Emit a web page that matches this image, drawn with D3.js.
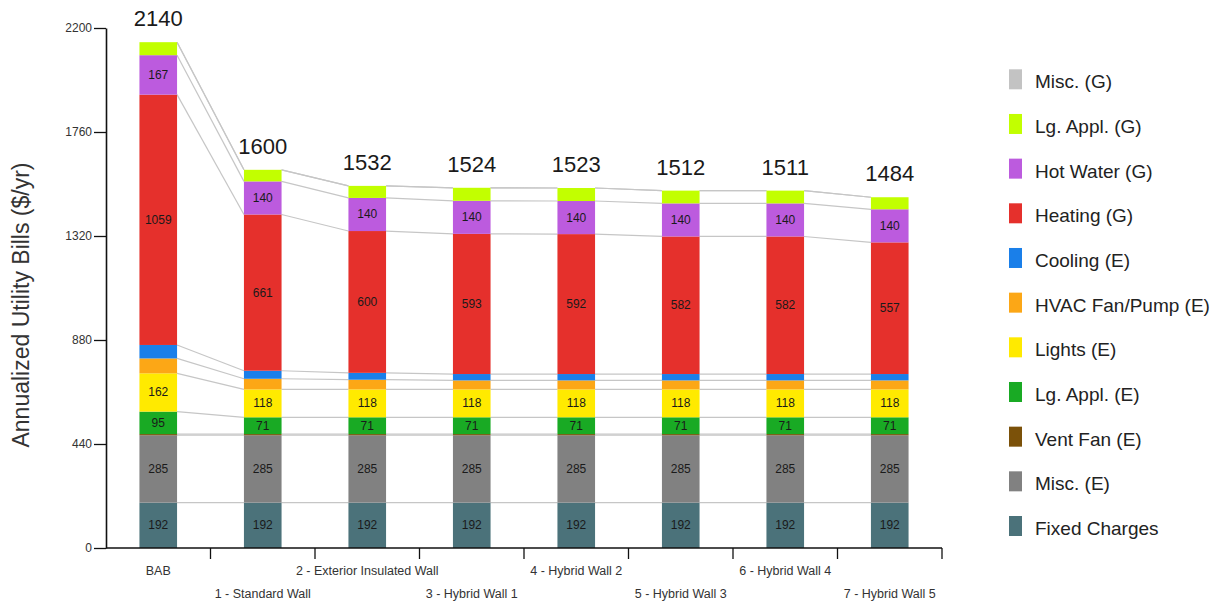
<!DOCTYPE html>
<html>
<head>
<meta charset="utf-8">
<script src="https://cdn.jsdelivr.net/npm/d3@7"></script>
<style>
  body { margin: 0; background: #fff; }
  svg { display: block; font-family: "Liberation Sans", Arial, sans-serif; }
</style>
</head>
<body>
<svg id="chart" width="1218" height="604"></svg>
<script>
// ---- data ----
const categories = ["BAB", "1 - Standard Wall", "2 - Exterior Insulated Wall", "3 - Hybrid Wall 1",
  "4 - Hybrid Wall 2", "5 - Hybrid Wall 3", "6 - Hybrid Wall 4", "7 - Hybrid Wall 5"];
const totals = [2140, 1600, 1532, 1524, 1523, 1512, 1511, 1484];

// series bottom -> top
const seriesNames = ["Fixed Charges", "Misc. (E)", "Vent Fan (E)", "Lg. Appl. (E)", "Lights (E)",
  "HVAC Fan/Pump (E)", "Cooling (E)", "Heating (G)", "Hot Water (G)", "Lg. Appl. (G)", "Misc. (G)"];
const seriesColors = ["#4b727a", "#818181", "#7b5109", "#19aa24", "#ffea00",
  "#fca716", "#1a7fe9", "#e5302c", "#bc5bde", "#c2ff00", "#c3c3c3"];

const fixedCharges = [192, 192, 192, 192, 192, 192, 192, 192];
const miscE        = [285, 285, 285, 285, 285, 285, 285, 285];
const ventFanE     = [5, 5, 5, 5, 5, 5, 5, 5];
const lgApplE      = [95, 71, 71, 71, 71, 71, 71, 71];
const lightsE      = [162, 118, 118, 118, 118, 118, 118, 118];
const hvacFanE     = [63, 45, 41, 38, 38, 38, 38, 38];
const coolingE     = [57, 34, 29, 27, 27, 27, 27, 27];
const heatingG     = [1059, 661, 600, 593, 592, 582, 582, 557];
const hotWaterG    = [167, 140, 140, 140, 140, 140, 140, 140];
const lgApplG      = [55, 49, 51, 55, 55, 54, 54, 51];
const miscG        = [0, 0, 0, 0, 0, 0, 0, 0];

const seriesValues = [fixedCharges, miscE, ventFanE, lgApplE, lightsE, hvacFanE, coolingE,
  heatingG, hotWaterG, lgApplG, miscG];

const yTicks = [0, 440, 880, 1320, 1760, 2200];
const labelMin = 65;

// ---- build ----
const svg = d3.select("#chart");
const x = d3.scaleBand().domain(categories).range([106, 942]).paddingInner(0.64).paddingOuter(0.32);
const y = d3.scaleLinear().domain([0, 2200]).range([548, 28]);

const rows = categories.map((c, i) => {
  const r = { cat: c };
  seriesNames.forEach((s, k) => r[s] = seriesValues[k][i]);
  return r;
});
const stacked = d3.stack().keys(seriesNames)(rows);

// connector lines (behind bars)
const conn = svg.append("g").attr("stroke", "#c6c6c6").attr("stroke-width", 1.2).attr("fill", "none");
stacked.forEach(layer => {
  for (let i = 0; i < categories.length - 1; i++) {
    conn.append("line")
      .attr("x1", x(categories[i]) + x.bandwidth())
      .attr("y1", y(layer[i][1]))
      .attr("x2", x(categories[i + 1]))
      .attr("y2", y(layer[i + 1][1]));
  }
});

// bars
const layers = svg.append("g").selectAll("g").data(stacked).join("g")
  .attr("fill", (d, k) => seriesColors[k]);
layers.selectAll("rect").data(d => d).join("rect")
  .attr("x", d => x(d.data.cat))
  .attr("width", x.bandwidth())
  .attr("y", d => y(d[1]))
  .attr("height", d => y(d[0]) - y(d[1]));

// segment labels
layers.selectAll("text").data(d => d.filter(p => p[1] - p[0] >= labelMin)).join("text")
  .attr("x", d => x(d.data.cat) + x.bandwidth() / 2)
  .attr("y", d => (y(d[0]) + y(d[1])) / 2 + 4)
  .attr("text-anchor", "middle")
  .attr("font-size", 12)
  .attr("fill", "#1a1a1a")
  .text(d => d[1] - d[0]);

// totals
svg.append("g").selectAll("text").data(categories).join("text")
  .attr("x", c => x(c) + x.bandwidth() / 2)
  .attr("y", (c, i) => y(totals[i]) - 16)
  .attr("text-anchor", "middle")
  .attr("font-size", 22)
  .attr("fill", "#1a1a1a")
  .text((c, i) => totals[i]);

// y axis
const yAxis = svg.append("g").attr("transform", "translate(106,0)")
  .call(d3.axisLeft(y).tickValues(yTicks).tickFormat(d3.format("d"))
    .tickSize(12).tickSizeOuter(0).tickPadding(2));
yAxis.select(".domain").attr("stroke", "#111").attr("stroke-width", 1.6);
yAxis.selectAll(".tick line").attr("stroke", "#111").attr("stroke-width", 1.3);
yAxis.selectAll(".tick text").attr("font-size", 12).attr("fill", "#333")
  .attr("font-family", "Liberation Sans, Arial, sans-serif");

// y title
svg.append("text")
  .attr("transform", "translate(29,305) rotate(-90)")
  .attr("text-anchor", "middle")
  .attr("font-size", 23)
  .attr("fill", "#333")
  .text("Annualized Utility Bills ($/yr)");

// x axis
const step = x.step();
const xg = svg.append("g");
xg.append("line").attr("x1", 106).attr("x2", x.range()[1]).attr("y1", y(0)).attr("y2", y(0))
  .attr("stroke", "#111").attr("stroke-width", 1.6);
xg.selectAll("line.tick").data(categories).join("line").attr("class", "tick")
  .attr("x1", c => x(c) + x.bandwidth() / 2 + step / 2)
  .attr("x2", c => x(c) + x.bandwidth() / 2 + step / 2)
  .attr("y1", y(0)).attr("y2", y(0) + 11)
  .attr("stroke", "#111").attr("stroke-width", 1.3);
xg.selectAll("text").data(categories).join("text")
  .attr("x", c => x(c) + x.bandwidth() / 2)
  .attr("y", (c, i) => i % 2 === 0 ? 575 : 598)
  .attr("text-anchor", "middle")
  .attr("font-size", 12.5)
  .attr("fill", "#333")
  .text(c => c);

// legend (top -> bottom)
const legendOrder = seriesNames.map((s, k) => k).reverse();
const lg = svg.append("g").selectAll("g").data(legendOrder).join("g")
  .attr("transform", (k, j) => `translate(1009,${69.3 + j * 44.67})`);
lg.append("rect").attr("width", 13).attr("height", 20).attr("fill", k => seriesColors[k]);
lg.append("text").attr("x", 26).attr("y", 19).attr("font-size", 19).attr("fill", "#222")
  .text(k => seriesNames[k]);
</script>
</body>
</html>
